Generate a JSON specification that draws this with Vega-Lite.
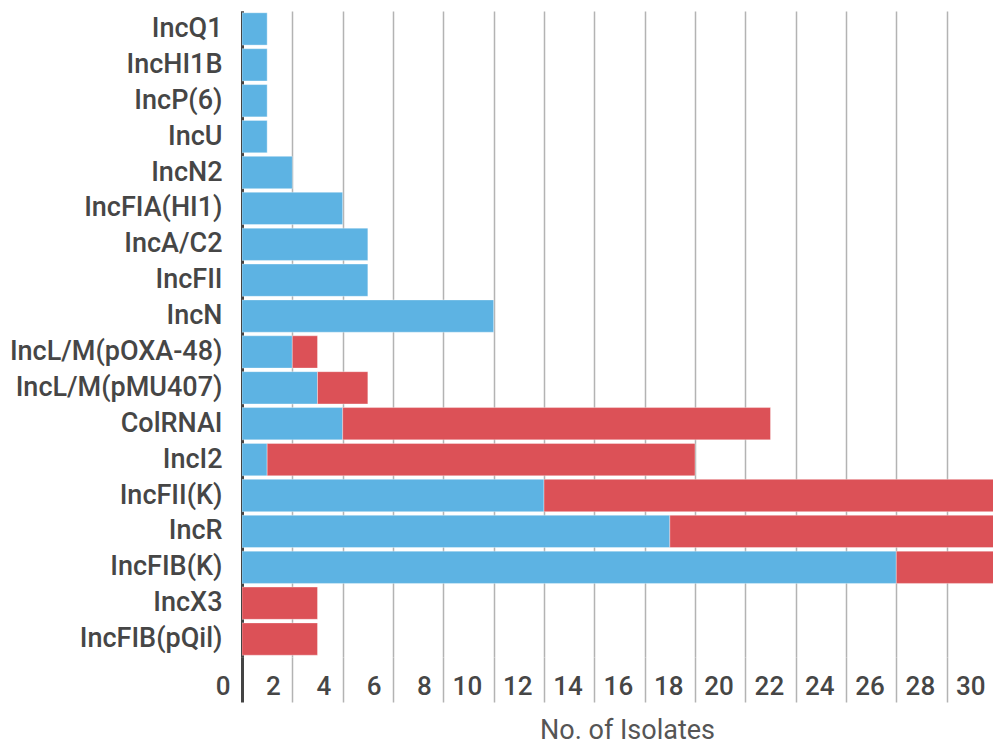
{
  "$schema": "https://vega.github.io/schema/vega-lite/v6.json",
  "width": 755,
  "height": 646,
  "autosize": "none",
  "padding": {"left": 242, "top": 11, "right": -4, "bottom": 88},
  "background": "white",
  "config": {"view": {"stroke": null}, "font": "Roboto"},
  "data": {
    "values": [
      {"plasmid": "IncQ1", "group": "A", "count": 1},
      {"plasmid": "IncHI1B", "group": "A", "count": 1},
      {"plasmid": "IncP(6)", "group": "A", "count": 1},
      {"plasmid": "IncU", "group": "A", "count": 1},
      {"plasmid": "IncN2", "group": "A", "count": 2},
      {"plasmid": "IncFIA(HI1)", "group": "A", "count": 4},
      {"plasmid": "IncA/C2", "group": "A", "count": 5},
      {"plasmid": "IncFII", "group": "A", "count": 5},
      {"plasmid": "IncN", "group": "A", "count": 10},
      {"plasmid": "IncL/M(pOXA-48)", "group": "A", "count": 2},
      {"plasmid": "IncL/M(pOXA-48)", "group": "B", "count": 1},
      {"plasmid": "IncL/M(pMU407)", "group": "A", "count": 3},
      {"plasmid": "IncL/M(pMU407)", "group": "B", "count": 2},
      {"plasmid": "ColRNAI", "group": "A", "count": 4},
      {"plasmid": "ColRNAI", "group": "B", "count": 17},
      {"plasmid": "IncI2", "group": "A", "count": 1},
      {"plasmid": "IncI2", "group": "B", "count": 17},
      {"plasmid": "IncFII(K)", "group": "A", "count": 12},
      {"plasmid": "IncFII(K)", "group": "B", "count": 20},
      {"plasmid": "IncR", "group": "A", "count": 17},
      {"plasmid": "IncR", "group": "B", "count": 15},
      {"plasmid": "IncFIB(K)", "group": "A", "count": 26},
      {"plasmid": "IncFIB(K)", "group": "B", "count": 6},
      {"plasmid": "IncX3", "group": "B", "count": 3},
      {"plasmid": "IncFIB(pQil)", "group": "B", "count": 3}
    ]
  },
  "mark": {"type": "bar", "clip": true, "stroke": "#ffffff", "strokeOpacity": 0.35, "strokeWidth": 1},
  "encoding": {
    "y": {
      "field": "plasmid",
      "type": "nominal",
      "sort": ["IncQ1", "IncHI1B", "IncP(6)", "IncU", "IncN2", "IncFIA(HI1)", "IncA/C2", "IncFII", "IncN", "IncL/M(pOXA-48)", "IncL/M(pMU407)", "ColRNAI", "IncI2", "IncFII(K)", "IncR", "IncFIB(K)", "IncX3", "IncFIB(pQil)"],
      "scale": {"paddingInner": 0.1, "paddingOuter": 0.05},
      "axis": {
        "title": null,
        "ticks": false,
        "domain": true,
        "domainColor": "#444444",
        "domainWidth": 3,
        "labelFont": "Roboto",
        "labelFontSize": 27,
        "labelFontWeight": 500,
        "labelColor": "#464646",
        "labelPadding": 20,
        "labelLimit": 400
      }
    },
    "x": {
      "field": "count",
      "type": "quantitative",
      "stack": "zero",
      "scale": {"domain": [0, 30], "nice": false},
      "axis": {
        "title": "No. of Isolates",
        "values": [0, 2, 4, 6, 8, 10, 12, 14, 16, 18, 20, 22, 24, 26, 28, 30],
        "domain": false,
        "grid": true,
        "gridColor": {"condition": {"test": "datum.value === 0", "value": "#444444"}, "value": "#b3b3b3"},
        "gridWidth": {"condition": {"test": "datum.value === 0", "value": 3}, "value": 1.5},
        "ticks": true,
        "tickSize": 45,
        "tickColor": {"condition": {"test": "datum.value === 0", "value": "#444444"}, "value": "#b3b3b3"},
        "tickWidth": {"condition": {"test": "datum.value === 0", "value": 3}, "value": 1.5},
        "labelAlign": "right",
        "labelBaseline": "middle",
        "labelOffset": -12,
        "labelPadding": -16,
        "labelFlush": false,
        "labelOverlap": false,
        "labelFont": "Roboto",
        "labelFontSize": 26,
        "labelFontWeight": 500,
        "labelColor": "#464646",
        "titleFont": "Roboto",
        "titleFontSize": 27,
        "titleFontWeight": "normal",
        "titleColor": "#555555",
        "titleX": 385,
        "titleY": 73,
        "titleBaseline": "middle",
        "titleAnchor": "middle"
      }
    },
    "color": {
      "field": "group",
      "type": "nominal",
      "scale": {"domain": ["A", "B"], "range": ["#5db3e3", "#dc5157"]},
      "legend": null
    },
    "order": {"field": "group", "type": "nominal", "sort": "ascending"}
  }
}
